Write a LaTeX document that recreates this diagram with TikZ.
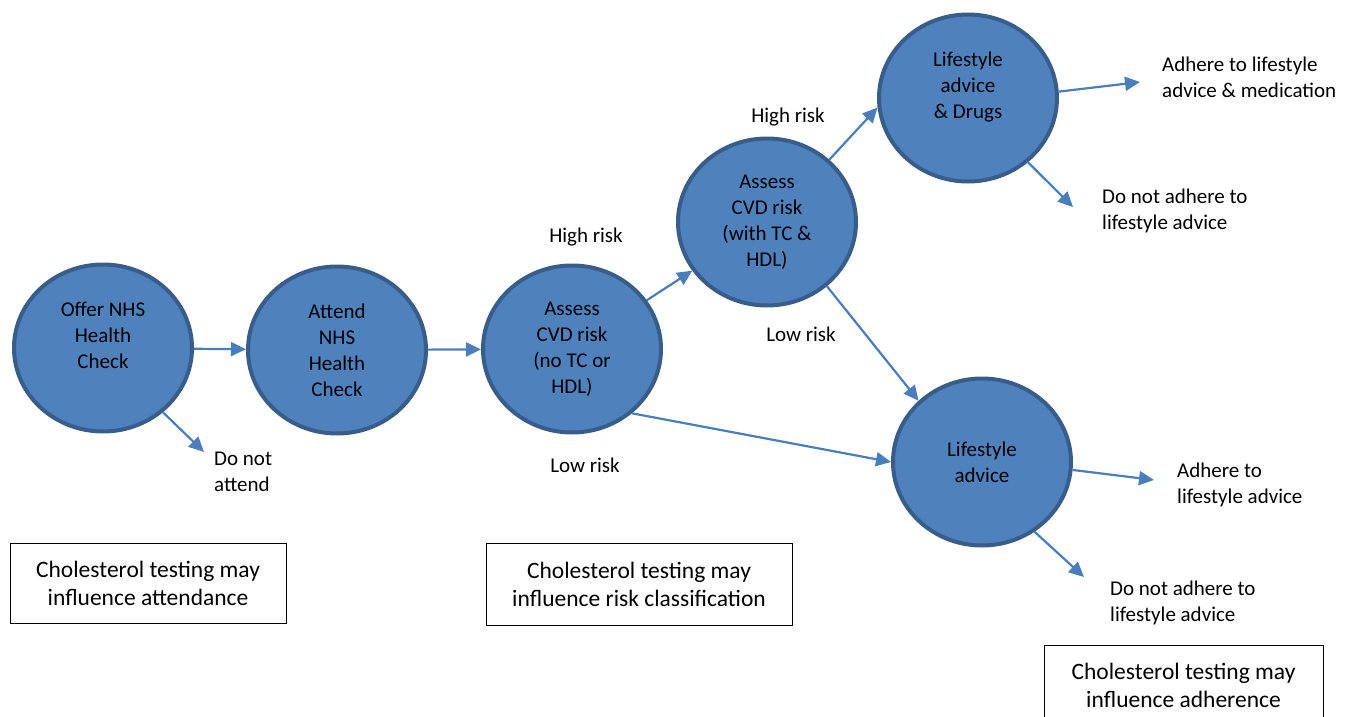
\documentclass[tikz,border=0pt]{standalone}
\usepackage{fontspec}
\setmainfont{Carlito}
\usetikzlibrary{shapes,arrows.meta}
\definecolor{nhsfill}{HTML}{4F81BD}
\definecolor{nhsedge}{HTML}{385D8A}
\definecolor{nhsarrow}{HTML}{4A7EBB}

\begin{document}
\begin{tikzpicture}[x=1pt,y=-1pt]
    \tikzstyle{stage}=[ellipse, draw=nhsedge, fill=nhsfill, line width=4pt, minimum width=178pt, minimum height=167pt, inner sep=0pt, align=center, font=\fontsize{21pt}{26pt}\selectfont, execute at begin node={\rule{0pt}{23pt}}]
    \tikzstyle{outcome}=[anchor=west, inner sep=0pt, align=left, font=\fontsize{21pt}{26pt}\selectfont]
    \tikzstyle{risk}=[inner sep=0pt, font=\fontsize{21pt}{26pt}\selectfont]
    \tikzstyle{note}=[rectangle, draw, line width=1pt, align=center, font=\fontsize{23.5pt}{28pt}\selectfont]
    \tikzstyle{flow}=[draw=nhsarrow, line width=2.2pt, -{Triangle[length=15pt,width=14pt]}]
    \clip (0,0) rectangle (1357,717);
    % stages
    \node[stage] (offer) at (103,348) {Offer NHS\\Health\\Check\\\mbox{}};
    \node[stage] (attend) at (337,350) {Attend\\NHS\\Health\\Check};
    \node[stage] (basic) at (572,349) {Assess\\CVD risk\\(no TC or\\HDL)};
    \node[stage] (full) at (767,222) {Assess\\CVD risk\\(with TC \&\\HDL)};
    \node[stage] (drugs) at (968,98) {Lifestyle\\advice\\\& Drugs\hspace*{24pt}\\\mbox{}};
    \node[stage] (advice) at (982,462) {Lifestyle\\advice};
    % risk labels
    \node[risk] (hione) at (586,237) {High risk};
    \node[risk] (loone) at (585,465) {Low risk};
    \node[risk] (hitwo) at (788,117) {High risk};
    \node[risk] (lotwo) at (801,334) {Low risk};
    % outcomes
    \node[outcome] (noshow) at (214,472) {Do not\\attend};
    \node[outcome] (keepall) at (1162,77) {Adhere to lifestyle\\advice \& medication};
    \node[outcome] (dropall) at (1102,211) {Do not adhere to\\lifestyle advice};
    \node[outcome] (keeplife) at (1177,485) {Adhere to\\lifestyle advice};
    \node[outcome] (droplife) at (1110,603) {Do not adhere to\\lifestyle advice};
    \coordinate (noshowtip) at (204,452);
    \coordinate (keepalltip) at (1140,82);
    \coordinate (dropalltip) at (1073,207);
    \coordinate (keeplifetip) at (1154,480);
    \coordinate (droplifetip) at (1084,577);
    % notes
    \node[note, minimum width=276pt, minimum height=80pt] (attnote) at (148,583) {Cholesterol testing may\\influence attendance};
    \node[note, minimum width=306pt, minimum height=82pt] (risknote) at (639,584) {Cholesterol testing may\\influence risk classification};
    \node[note, minimum width=279pt, minimum height=80pt] (adhnote) at (1183.5,685) {Cholesterol testing may\\influence adherence};
    % arrows
    \draw[flow] (offer) -- (attend);
    \draw[flow] (attend) -- (basic);
    \draw[flow] (basic) -- (full);
    \draw[flow] (basic.-47) -- (advice.west);
    \draw[flow] (full.45) -- (drugs.186);
    \draw[flow] (full.-47) -- (advice.136);
    \draw[flow] (offer.-47) -- (noshowtip);
    \draw[flow] (drugs.4) -- (keepalltip);
    \draw[flow] (drugs.-47) -- (dropalltip);
    \draw[flow] (advice.-5) -- (keeplifetip);
    \draw[flow] (advice.-53) -- (droplifetip);
\end{tikzpicture}
\end{document}
